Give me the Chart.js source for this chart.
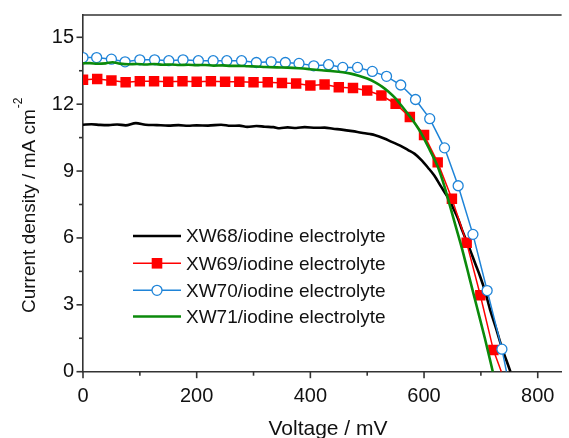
<!DOCTYPE html>
<html>
<head>
<meta charset="utf-8">
<script src="https://cdn.jsdelivr.net/npm/chart.js@4/dist/chart.umd.min.js"></script>
<style>
  html, body { margin: 0; padding: 0; background: #fff; }
  #wrap { width: 569px; height: 438px; position: relative; }
</style>
</head>
<body>
<div id="wrap"><canvas id="c" width="569" height="438"></canvas></div>
<script>
// ---------- data ----------
const seriesNames = [
  'XW68/iodine electrolyte',
  'XW69/iodine electrolyte',
  'XW70/iodine electrolyte',
  'XW71/iodine electrolyte'
];

const xTickLabels = [0, 200, 400, 600, 800];
const yTickLabels = [0, 3, 6, 9, 12, 15];

// XW68 (black line, no markers)
const voltageXW68 = [0, 15, 30, 45, 60, 75, 93, 110, 130, 150, 168, 185, 200, 220, 243, 260, 275, 289, 305, 320, 335, 346, 360, 375, 390, 410, 425, 440, 455, 474, 490, 505, 514, 530, 543, 558, 572, 583, 595, 607, 618, 630, 641, 652, 660, 667, 679, 690, 699, 707, 716, 726, 738, 745, 752];
const currentXW68 = [11.08, 11.10, 11.07, 11.06, 11.09, 11.05, 11.15, 11.08, 11.06, 11.04, 11.06, 11.03, 11.05, 11.04, 11.08, 11.03, 11.04, 10.98, 11.02, 10.99, 10.97, 10.92, 10.96, 10.93, 10.97, 10.94, 10.95, 10.90, 10.86, 10.79, 10.72, 10.66, 10.61, 10.46, 10.31, 10.14, 9.94, 9.78, 9.50, 9.15, 8.80, 8.30, 7.85, 7.30, 6.85, 6.35, 5.60, 4.85, 4.25, 3.64, 2.80, 2.00, 1.00, 0.50, 0];

// XW69 (red line with filled squares)
const voltageXW69 = [0, 25, 50, 75, 100, 125, 150, 175, 200, 225, 250, 275, 300, 325, 350, 375, 400, 425, 450, 475, 500, 525, 550, 575, 600, 624, 649, 675, 699, 722, 736];
const currentXW69 = [13.10, 13.13, 13.06, 12.98, 13.03, 13.03, 13.01, 13.03, 13.01, 13.03, 13.01, 13.01, 12.98, 12.98, 12.95, 12.93, 12.84, 12.88, 12.76, 12.73, 12.61, 12.39, 12.02, 11.42, 10.62, 9.39, 7.76, 5.78, 3.43, 0.97, 0];

// XW70 (blue line with open circles)
const voltageXW70 = [0, 24, 50, 74, 100, 126, 151, 176, 203, 229, 253, 279, 305, 331, 356, 380, 406, 432, 457, 483, 509, 534, 559, 585, 610, 636, 660, 686, 711, 737, 745];
const currentXW70 = [14.09, 14.09, 14.02, 13.90, 13.99, 13.99, 13.95, 13.99, 13.95, 13.95, 13.95, 13.95, 13.87, 13.90, 13.87, 13.83, 13.72, 13.77, 13.65, 13.65, 13.47, 13.25, 12.86, 12.21, 11.35, 10.04, 8.34, 6.16, 3.64, 1.01, 0];

// XW71 (green line, no markers)
const voltageXW71 = [0, 12, 25, 40, 52, 65, 80, 95, 110, 125, 140, 155, 170, 185, 200, 215, 230, 245, 260, 275, 290, 305, 320, 341, 360, 380, 399, 420, 440, 457, 471, 485, 500, 514, 526, 537, 549, 560, 572, 585, 596, 610, 624, 636, 646, 656, 667, 680, 693, 707, 721];
const currentXW71 = [13.83, 13.84, 13.81, 13.83, 13.88, 13.82, 13.79, 13.80, 13.78, 13.80, 13.77, 13.78, 13.76, 13.77, 13.75, 13.76, 13.73, 13.74, 13.72, 13.72, 13.70, 13.69, 13.67, 13.65, 13.64, 13.61, 13.57, 13.52, 13.48, 13.43, 13.37, 13.28, 13.15, 12.98, 12.79, 12.57, 12.28, 11.94, 11.55, 11.10, 10.65, 9.95, 9.20, 8.30, 7.40, 6.50, 5.50, 4.20, 2.90, 1.50, 0];

// ---------- styling ----------
const FONT = '"Liberation Sans", Arial, sans-serif';
const AXIS_COLOR = '#333333';
const TEXT_COLOR = '#111111';
const seriesColors = ['#000000', '#ff0000', '#1f84d8', '#0b8a0b'];

function pairs(xs, ys) { return xs.map((v, i) => ({ x: v, y: ys[i] })); }
function markersExceptLast(n, r) { return Array.from({ length: n }, (_, i) => (i === n - 1 ? 0 : r)); }

// major ticks come from the label arrays; minor ticks sit halfway between them
function withMinor(major) {
  const out = [];
  major.forEach((v, i) => {
    out.push(v);
    if (i < major.length - 1) out.push((v + major[i + 1]) / 2);
  });
  return out;
}
const xTickValues = withMinor(xTickLabels);
const yTickValues = withMinor(yTickLabels);

const datasets = [
  {
    label: seriesNames[0], data: pairs(voltageXW68, currentXW68),
    borderColor: seriesColors[0], borderWidth: 2.6, pointRadius: 0,
    cubicInterpolationMode: 'monotone', order: 3, _legend: 'line'
  },
  {
    label: seriesNames[1], data: pairs(voltageXW69, currentXW69),
    borderColor: seriesColors[1], borderWidth: 1.5,
    pointStyle: 'rect', pointRadius: markersExceptLast(voltageXW69.length, 7.4),
    pointBackgroundColor: seriesColors[1], pointBorderColor: seriesColors[1], pointBorderWidth: 0,
    order: 2, _legend: 'rect'
  },
  {
    label: seriesNames[2], data: pairs(voltageXW70, currentXW70),
    borderColor: seriesColors[2], borderWidth: 1.5,
    pointStyle: 'circle', pointRadius: markersExceptLast(voltageXW70.length, 5),
    pointBackgroundColor: '#ffffff', pointBorderColor: seriesColors[2], pointBorderWidth: 1.3,
    order: 1, _legend: 'circle'
  },
  {
    label: seriesNames[3], data: pairs(voltageXW71, currentXW71),
    borderColor: seriesColors[3], borderWidth: 2.6, pointRadius: 0,
    cubicInterpolationMode: 'monotone', order: 0, _legend: 'line'
  }
];

// ---------- custom drawing: frame top, tick marks, legend, axis titles ----------
const decorations = {
  id: 'decorations',
  afterDraw(chart) {
    const { ctx, chartArea: a, scales: { x, y } } = chart;
    ctx.save();
    ctx.strokeStyle = AXIS_COLOR;
    ctx.lineWidth = 1.6;
    // top frame line
    ctx.beginPath(); ctx.moveTo(a.left, a.top); ctx.lineTo(a.right, a.top); ctx.stroke();
    // x tick marks (major / minor)
    x.ticks.forEach(t => {
      const px = x.getPixelForValue(t.value);
      const major = xTickLabels.includes(t.value);
      ctx.beginPath(); ctx.moveTo(px, a.bottom); ctx.lineTo(px, a.bottom + (major ? 6.5 : 4)); ctx.stroke();
    });
    // y tick marks (major / minor)
    y.ticks.forEach(t => {
      const py = y.getPixelForValue(t.value);
      const major = yTickLabels.includes(t.value);
      ctx.beginPath(); ctx.moveTo(a.left, py); ctx.lineTo(a.left - (major ? 6.5 : 4), py); ctx.stroke();
    });

    // legend
    const rowsY = [236, 263.3, 290.3, 316.5];
    const lx0 = 133, lx1 = 181, tx = 186;
    ctx.font = '19px ' + FONT;
    ctx.textBaseline = 'middle';
    ctx.textAlign = 'left';
    chart.data.datasets.forEach((ds, i) => {
      const yy = rowsY[i];
      ctx.strokeStyle = ds.borderColor;
      ctx.lineWidth = ds.borderWidth;
      ctx.beginPath(); ctx.moveTo(lx0, yy); ctx.lineTo(lx1, yy); ctx.stroke();
      const cx = (lx0 + lx1) / 2;
      if (ds._legend === 'rect') {
        ctx.fillStyle = ds.pointBackgroundColor;
        ctx.fillRect(cx - 5.3, yy - 5.3, 10.6, 10.6);
      } else if (ds._legend === 'circle') {
        ctx.fillStyle = '#ffffff';
        ctx.lineWidth = ds.pointBorderWidth;
        ctx.strokeStyle = ds.pointBorderColor;
        ctx.beginPath(); ctx.arc(cx, yy, 5, 0, Math.PI * 2); ctx.fill(); ctx.stroke();
      }
      ctx.fillStyle = TEXT_COLOR;
      ctx.fillText(ds.label, tx, yy + 1);
    });

    // x axis title
    ctx.fillStyle = TEXT_COLOR;
    ctx.font = '21px ' + FONT;
    ctx.textAlign = 'center';
    ctx.textBaseline = 'alphabetic';
    ctx.fillText('Voltage / mV', 328, 435);

    // y axis title with superscript
    ctx.textAlign = 'left';
    ctx.translate(35, 313);
    ctx.rotate(-Math.PI / 2);
    ctx.font = '19px ' + FONT;
    const main = 'Current density / mA cm';
    ctx.fillText(main, 0, 0);
    const w = ctx.measureText(main).width;
    ctx.font = '12px ' + FONT;
    ctx.fillText('-2', w + 1, -13);
    ctx.restore();
  }
};

new Chart(document.getElementById('c'), {
  type: 'line',
  data: { datasets },
  plugins: [decorations],
  options: {
    responsive: false,
    animation: false,
    events: [],
    layout: { padding: { top: 12, right: 0, bottom: 0, left: 0 } },
    plugins: { legend: { display: false }, tooltip: { enabled: false } },
    scales: {
      x: {
        type: 'linear', min: 0, max: 842,
        afterBuildTicks(scale) { scale.ticks = xTickValues.map(v => ({ value: v })); },
        afterFit(scale) { scale.height = 66.3; },
        ticks: {
          autoSkip: false, maxRotation: 0, minRotation: 0,
          padding: 7, color: TEXT_COLOR, font: { family: FONT, size: 20 },
          callback: v => (xTickLabels.includes(v) ? String(v) : '')
        },
        grid: { display: true, drawOnChartArea: false, drawTicks: true, tickLength: 6, tickColor: 'rgba(0,0,0,0)' },
        border: { display: true, color: AXIS_COLOR, width: 1.6 }
      },
      y: {
        type: 'linear', min: 0, max: 16,
        afterBuildTicks(scale) { scale.ticks = yTickValues.map(v => ({ value: v })); },
        afterFit(scale) { scale.width = 83; },
        ticks: {
          autoSkip: false,
          padding: 3, color: TEXT_COLOR, font: { family: FONT, size: 20 },
          callback: v => (yTickLabels.includes(v) ? String(v) : '')
        },
        grid: { display: true, drawOnChartArea: false, drawTicks: true, tickLength: 6, tickColor: 'rgba(0,0,0,0)' },
        border: { display: true, color: AXIS_COLOR, width: 1.6 }
      }
    }
  }
});
</script>
</body>
</html>
